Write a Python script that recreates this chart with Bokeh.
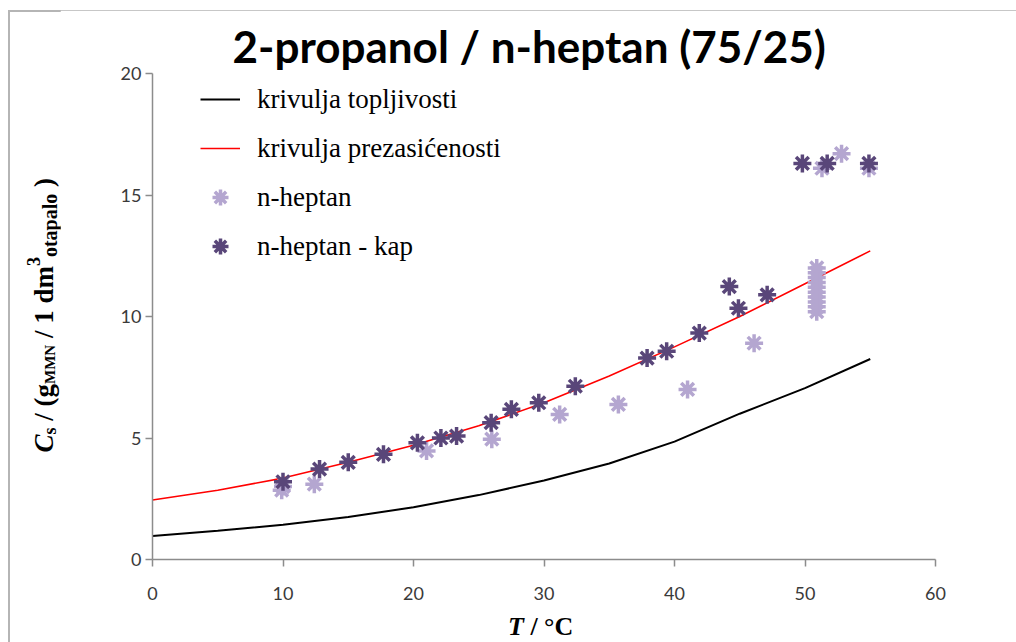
from bokeh.plotting import figure
from bokeh.models import Range1d, FixedTicker, Legend, LegendItem, Div
from bokeh.layouts import row, column
from bokeh.embed import file_html
from bokeh.resources import INLINE

# ---------------- data ----------------
title_text = "2-propanol / n-heptan (75/25)"

curve_T = [0, 5, 10, 15, 20, 25, 30, 35, 40, 45, 50, 55]
solubility_curve = [0.97, 1.18, 1.43, 1.75, 2.15, 2.65, 3.25, 3.95, 4.85, 6.0, 7.05, 8.25]
supersaturation_curve = [2.45, 2.85, 3.35, 4.0, 4.7, 5.5, 6.45, 7.55, 8.75, 10.0, 11.35, 12.7]

heptan_T = [9.9, 10.0, 12.4, 21.0, 26.0, 31.2, 35.7, 41.0, 46.1,
            50.9, 50.9, 50.9, 50.9, 50.9, 50.9, 50.9, 50.9, 50.9, 50.9,
            51.3, 52.8, 54.9]
heptan_C = [2.85, 3.0, 3.1, 4.47, 4.95, 5.97, 6.38, 7.0, 8.9,
            10.2, 10.4, 10.6, 10.8, 11.0, 11.2, 11.4, 11.6, 11.8, 12.0,
            16.1, 16.7, 16.1]

kap_T = [10.0, 12.8, 15.0, 17.7, 20.3, 22.1, 23.3, 25.95, 27.5, 29.6, 32.4,
         37.9, 39.4, 41.9, 44.2, 44.9, 47.1, 49.8, 51.7, 54.9]
kap_C = [3.2, 3.72, 4.0, 4.33, 4.8, 5.0, 5.08, 5.63, 6.18, 6.45, 7.13,
         8.29, 8.57, 9.32, 11.23, 10.34, 10.89, 16.3, 16.3, 16.3]

x_ticks = [0, 10, 20, 30, 40, 50, 60]
y_ticks = [0, 5, 10, 15, 20]

legend_labels = ["krivulja topljivosti", "krivulja prezasićenosti", "n-heptan", "n-heptan - kap"]

BORDER = "#b5b5b5"

# ---------------- figure ----------------
p = figure(width=956, height=602, output_backend="svg", toolbar_location=None,
           x_range=Range1d(0, 60), y_range=Range1d(0, 20),
           min_border_left=92, min_border_right=81, min_border_top=63, min_border_bottom=53)
p.outline_line_color = None
p.xgrid.grid_line_color = None
p.ygrid.grid_line_color = None
p.background_fill_color = "white"
p.border_fill_color = "white"

p.title.text = title_text
p.title.text_font = "Lato"
p.title.text_font_size = "44px"
p.title.text_font_style = "bold"
p.title.text_color = "black"
p.title.align = "left"
p.title.offset = 80
p.title.standoff = 4

for ax in (p.xaxis[0], p.yaxis[0]):
    ax.axis_line_color = "#8c8c8c"
    ax.axis_line_width = 1.5
    ax.major_tick_line_color = "#8c8c8c"
    ax.major_tick_line_width = 1.5
    ax.major_tick_out = 7
    ax.major_tick_in = 0
    ax.minor_tick_out = 0
    ax.minor_tick_in = 0
    ax.major_label_text_font = "Lato"
    ax.major_label_text_font_size = "18px"
    ax.major_label_text_color = "#3a3a3a"

p.xaxis.ticker = FixedTicker(ticks=x_ticks)
p.yaxis.ticker = FixedTicker(ticks=y_ticks)
p.xaxis.major_label_standoff = 20
p.yaxis.major_label_standoff = 4

# ---------------- glyphs ----------------
r_sol = p.line(curve_T, solubility_curve, line_color="black", line_width=2)
r_sup = p.line(curve_T, supersaturation_curve, line_color="#ff0000", line_width=1.6)
r_hep = p.scatter(heptan_T, heptan_C, marker="asterisk", size=18, line_width=3.5,
                  line_color="#b4a6d0", fill_color="#b4a6d0")
r_kap = p.scatter(kap_T, kap_C, marker="asterisk", size=18, line_width=3.5,
                  line_color="#594679", fill_color="#594679")

legend = Legend(items=[LegendItem(label=legend_labels[0], renderers=[r_sol]),
                       LegendItem(label=legend_labels[1], renderers=[r_sup]),
                       LegendItem(label=legend_labels[2], renderers=[r_hep]),
                       LegendItem(label=legend_labels[3], renderers=[r_kap])],
                location=(48, 293))
legend.label_text_font = "Liberation Serif"
legend.label_text_font_size = "27px"
legend.label_text_color = "black"
legend.glyph_width = 40
legend.glyph_height = 40
legend.label_height = 40
legend.spacing = 9
legend.padding = 0
legend.margin = 0
legend.label_standoff = 17
legend.border_line_color = None
legend.background_fill_alpha = 0
p.add_layout(legend)

# ---------------- axis titles (rich text: italics, sub- and superscripts) ----------------
sub = "line-height:0;"
y_title_html = (
    f'<div style="margin-left:8px;border-left:2px solid {BORDER};width:52px;height:602px;'
    'box-sizing:border-box;padding-left:19px;padding-top:8px;display:flex;align-items:center;">'
    '<div style="writing-mode:vertical-rl;transform:rotate(180deg);white-space:nowrap;'
    "font-family:'Liberation Serif';font-weight:bold;font-size:27px;line-height:31px;color:black;\">"
    f'<i>C</i><sub style="{sub}font-size:18px">s</sub> / (g<sub style="{sub}font-size:15px">MMN</sub>'
    f' / 1 dm<sup style="{sub}font-size:18px">3</sup><sub style="{sub}font-size:20px">otapalo</sub> )'
    '</div></div>'
)
x_title_html = (
    f'<div style="margin-left:8px;border-left:2px solid {BORDER};width:1008px;height:30px;'
    'box-sizing:border-box;padding-left:498px;white-space:nowrap;'
    "font-family:'Liberation Serif';font-weight:bold;font-size:26px;line-height:30px;color:black;\">"
    '<i>T</i> / °C</div>'
)
top_html = (
    '<div style="width:1016px;height:10px;box-sizing:border-box;padding:8px 0 0 8px;">'
    f'<div style="height:2px;background:{BORDER};"></div></div>'
)

top_div = Div(text=top_html, width=1016, height=10, margin=0)
y_div = Div(text=y_title_html, width=60, height=602, margin=0)
x_div = Div(text=x_title_html, width=1016, height=30, margin=0)

layout = column(top_div, row(y_div, p, spacing=0, margin=0), x_div, spacing=0, margin=0)

open("out.html", "w").write(file_html(layout, INLINE))
